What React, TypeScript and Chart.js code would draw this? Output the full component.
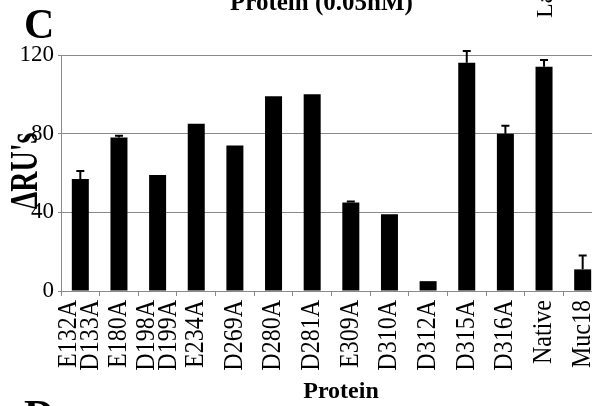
import { useEffect, useRef } from "react";
import { Chart, registerables } from "chart.js";

Chart.register(...registerables);

// ---- data ----
const categories: string[][] = [
  ["E132A", "D133A"],
  ["E180A"],
  ["D198A", "D199A"],
  ["E234A"],
  ["D269A"],
  ["D280A"],
  ["D281A"],
  ["E309A"],
  ["D310A"],
  ["D312A"],
  ["D315A"],
  ["D316A"],
  ["Native"],
  ["Muc18"],
];
const values = [57, 78, 59, 85, 74, 99, 100, 45, 39, 5, 116, 80, 114, 11];
const errors = [4, 1, 0, 0, 0, 0, 0, 0.5, 0, 0, 6, 4, 3.5, 7];
const yTicks = [0, 40, 80, 120];
const yTitle = "ΔRU's";
const xTitle = "Protein";
const panelTitle = "Protein (0.05nM)";
const panelLetter = "C";
const nextPanelLetter = "D";
const sideText = "La";

const SERIF = '"Liberation Serif", "Times New Roman", serif';
const GRID = "#8a8a8a";

const annotate = {
  id: "annotate",
  afterDatasetsDraw(chart: any) {
    const { ctx } = chart;
    const x = chart.scales.x;
    const y = chart.scales.y;
    ctx.save();
    ctx.strokeStyle = "#000";
    ctx.lineWidth = 2;
    values.forEach((v, i) => {
      const e = errors[i];
      if (!e) return;
      const px = x.getPixelForValue(i);
      const base = y.getPixelForValue(v);
      const top = y.getPixelForValue(v + e);
      ctx.beginPath();
      ctx.moveTo(px, base);
      ctx.lineTo(px, top);
      ctx.moveTo(px - 4, top);
      ctx.lineTo(px + 4, top);
      ctx.stroke();
    });
    ctx.restore();
  },
  afterDraw(chart: any) {
    const { ctx, chartArea } = chart;
    const x = chart.scales.x;
    ctx.save();
    ctx.fillStyle = "#000";
    // category labels (rotated, multi-line centred on the bar)
    ctx.font = `24px ${SERIF}`;
    ctx.textAlign = "right";
    ctx.textBaseline = "middle";
    const spacing = 22;
    const labelTop = chartArea.bottom + 9;
    categories.forEach((lines, i) => {
      const px = x.getPixelForValue(i);
      lines.forEach((t, j) => {
        const off = (j - (lines.length - 1) / 2) * spacing;
        ctx.save();
        ctx.translate(px + off, labelTop);
        ctx.rotate(-Math.PI / 2);
        ctx.scale(1, 1.1);
        ctx.fillText(t, 0, 0);
        ctx.restore();
      });
    });
    // x axis title
    ctx.font = `bold 24px ${SERIF}`;
    ctx.textAlign = "center";
    ctx.textBaseline = "alphabetic";
    ctx.fillText(xTitle, 341, 398);
    // y axis title
    ctx.save();
    ctx.font = `bold 28px ${SERIF}`;
    ctx.translate(27, 171);
    ctx.rotate(-Math.PI / 2);
    ctx.scale(1, 1.4);
    ctx.textAlign = "center";
    ctx.textBaseline = "middle";
    ctx.fillText(yTitle, 0, 0);
    ctx.restore();
    // panel letters
    ctx.font = `bold 42px ${SERIF}`;
    ctx.textAlign = "left";
    ctx.textBaseline = "alphabetic";
    ctx.fillText(panelLetter, 24, 38);
    ctx.fillText(nextPanelLetter, 24, 429);
    // panel title (cut off at the top)
    ctx.font = `bold 25px ${SERIF}`;
    ctx.fillText(panelTitle, 230, 9.5);
    // side text (rotated, cut)
    ctx.save();
    ctx.font = `24px ${SERIF}`;
    ctx.translate(552, 18);
    ctx.rotate(-Math.PI / 2);
    ctx.textAlign = "left";
    ctx.textBaseline = "alphabetic";
    ctx.fillText(sideText, 0, 0);
    ctx.restore();
    ctx.restore();
  },
};

export default function App() {
  const ref = useRef<HTMLCanvasElement | null>(null);
  useEffect(() => {
    if (!ref.current) return;
    const chart = new Chart(ref.current, {
      type: "bar",
      data: {
        labels: categories.map((c) => c.join(" ")),
        datasets: [
          {
            data: values,
            backgroundColor: "#000",
            borderWidth: 0,
            barPercentage: 0.44,
            categoryPercentage: 1,
          },
        ],
      },
      options: {
        responsive: false,
        animation: false,
        events: [],
        layout: { padding: { left: 0, right: 8, top: 55, bottom: 0 } },
        plugins: { legend: { display: false }, tooltip: { enabled: false }, title: { display: false } },
        scales: {
          x: {
            offset: true,
            grid: {
              display: true,
              offset: true,
              drawOnChartArea: false,
              drawTicks: true,
              tickLength: 5,
              color: GRID,
              lineWidth: 1,
            },
            border: { display: true, color: GRID, width: 1 },
            ticks: { display: false },
            afterFit: (s: any) => {
              s.height = 115;
            },
          },
          y: {
            min: 0,
            max: 120,
            afterBuildTicks: (s: any) => {
              s.ticks = yTicks.map((v) => ({ value: v }));
            },
            grid: { color: GRID, lineWidth: 1, drawTicks: true, tickLength: 3 },
            border: { display: true, color: GRID, width: 1 },
            ticks: {
              color: "#000",
              padding: 4,
              font: { family: SERIF, size: 23 },
            },
            afterFit: (s: any) => {
              s.width = 61;
            },
          },
        },
      },
      plugins: [annotate],
    });
    return () => chart.destroy();
  }, []);
  return (
    <div style={{ width: 592, height: 406, overflow: "hidden", position: "relative" }}>
      <style>{`body{margin:0}`}</style>
      <canvas ref={ref} width={610} height={406} style={{ display: "block" }} />
    </div>
  );
}
